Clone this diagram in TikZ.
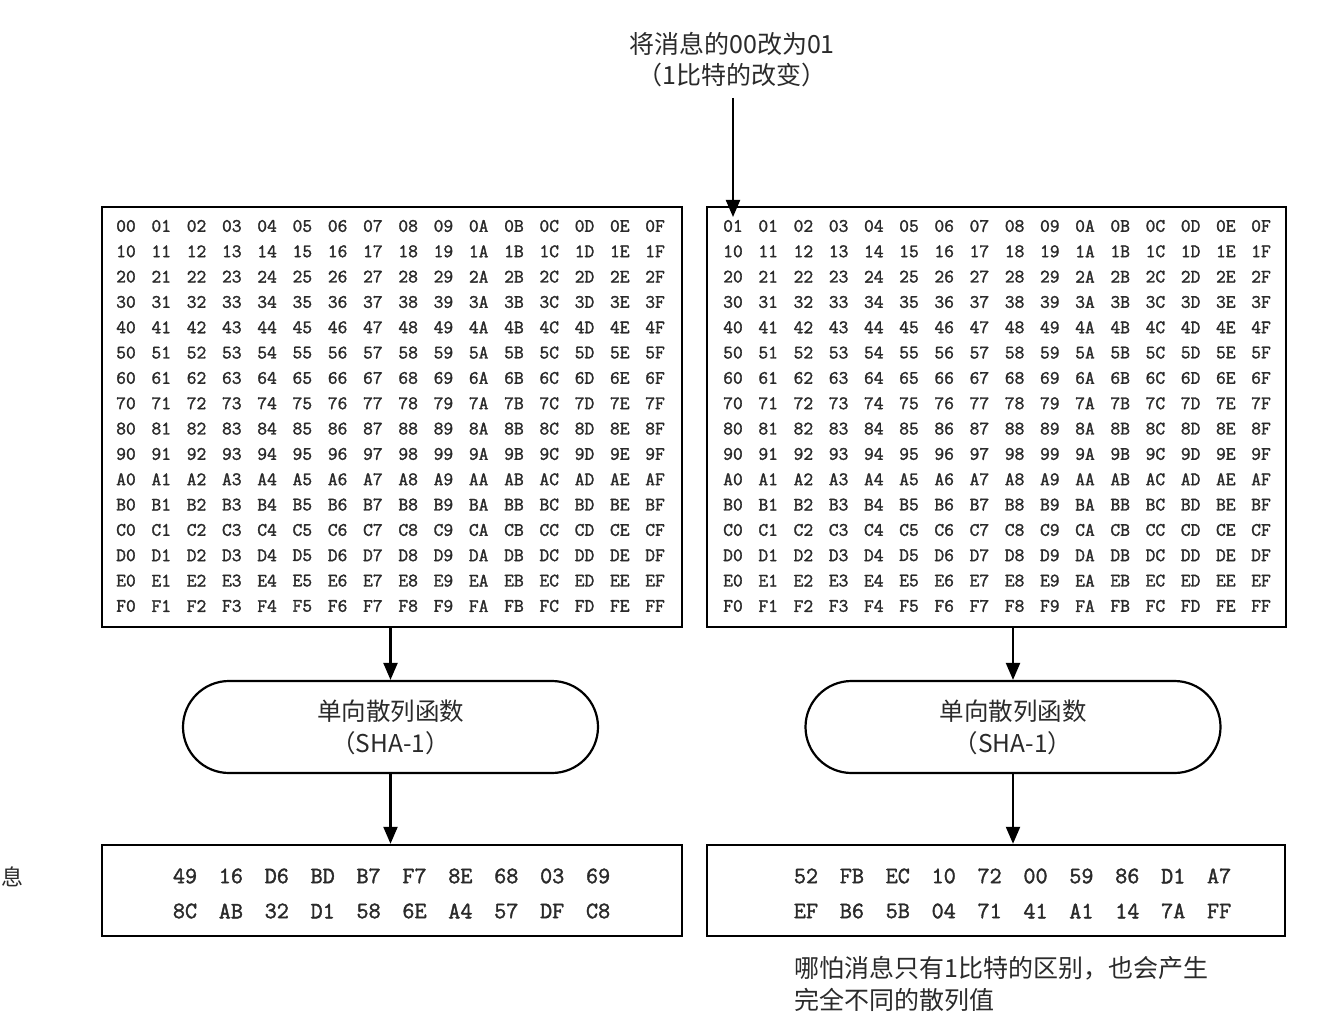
\documentclass[tikz,border=0pt]{standalone}
\usepackage{fontspec}
\newfontfamily\cjk{Noto Sans CJK SC}
\newfontfamily\hexfont[FakeBold=1.6]{Latin Modern Mono}
\usetikzlibrary{arrows.meta}
\newcommand\hx[1]{\ifcase#1 0\or 1\or 2\or 3\or 4\or 5\or 6\or 7\or 8\or 9\or A\or B\or C\or D\or E\or F\fi}
\definecolor{ink}{HTML}{2A2A2A}
\begin{document}
\begin{tikzpicture}[x=1pt,y=-1pt,
  frame/.style={draw=black, line width=2.4pt, fill=white},
  func/.style={draw=black, line width=2.2pt, rounded corners=46pt, minimum width=415pt, minimum height=92pt, align=center, font=\cjk\fontsize{24.5}{32}\selectfont, text=ink},
  cell/.style={inner sep=0pt, font=\hexfont\fontsize{19}{19}\selectfont, text=ink},
  outcell/.style={inner sep=0pt, font=\hexfont\fontsize{23.5}{23.5}\selectfont, text=ink},
  arr/.style={-{Triangle[length=17pt,width=14pt]}, line width=2.2pt},
  label/.style={align=center, text=ink, inner sep=0pt}]
\useasboundingbox (0,0) rectangle (1332,1024);

% top label
\node[label, font=\cjk\fontsize{25}{31}\selectfont] (top) at (732,60) {将消息的00改为01\\（1比特的改变）};
\coordinate (tstart) at (733,98);
\coordinate (tend) at (733,217);

% message boxes
\node[frame, minimum width=580pt, minimum height=420pt, inner sep=0pt] (lbox) at (392,417) {};
\node[frame, minimum width=579pt, minimum height=420pt, inner sep=0pt] (rbox) at (996.5,417) {};

\foreach \r in {0,...,15} {
  \foreach \c in {0,...,15} {
    \node[cell] (l-\r-\c) at ({126+35.27*\c},{226+25.33*\r}) {\hx{\r}\hx{\c}};
    \ifnum\r=0 \ifnum\c=0
      \node[cell] (r-\r-\c) at ({733+35.2*\c},{226+25.33*\r}) {01};
    \else
      \node[cell] (r-\r-\c) at ({733+35.2*\c},{226+25.33*\r}) {\hx{\r}\hx{\c}};
    \fi\else
      \node[cell] (r-\r-\c) at ({733+35.2*\c},{226+25.33*\r}) {\hx{\r}\hx{\c}};
    \fi
  }
}

\draw[arr] (tstart) -- (tend);

% hash functions
\node[func] (lfun) at (390.5,727) {单向散列函数\\（SHA-1）};
\node[func] (rfun) at (1013,727) {单向散列函数\\（SHA-1）};

% output boxes
\node[frame, minimum width=580pt, minimum height=91pt, inner sep=0pt] (lout) at (392,890.5) {};
\node[frame, minimum width=578pt, minimum height=91pt, inner sep=0pt] (rout) at (996,890.5) {};

\foreach \t [count=\i from 0] in {49,16,D6,BD,B7,F7,8E,68,03,69}
  \node[outcell] (la-\i) at ({185+45.9*\i},876) {\t};
\foreach \t [count=\i from 0] in {8C,AB,32,D1,58,6E,A4,57,DF,C8}
  \node[outcell] (lb-\i) at ({185+45.9*\i},911) {\t};
\foreach \t [count=\i from 0] in {52,FB,EC,10,72,00,59,86,D1,A7}
  \node[outcell] (ra-\i) at ({806+45.9*\i},876) {\t};
\foreach \t [count=\i from 0] in {EF,B6,5B,04,71,41,A1,14,7A,FF}
  \node[outcell] (rb-\i) at ({806+45.9*\i},911) {\t};

% connectors
\draw[arr] (lbox.south -| lfun.north) -- (lfun.north);
\draw[arr] (rbox.south -| rfun.north) -- (rfun.north);
\draw[arr] (lfun.south) -- (lout.north -| lfun.south);
\draw[arr] (rfun.south) -- (rout.north -| rfun.south);

% note
\node[label, anchor=west, align=left, font=\cjk\fontsize{25}{32}\selectfont] (note) at (794,984) {哪怕消息只有1比特的区别，也会产生\\完全不同的散列值};

% character at left edge
\node[label, anchor=west, font=\cjk\fontsize{22}{22}\selectfont] (cut) at (1,877) {息};
\end{tikzpicture}
\end{document}
